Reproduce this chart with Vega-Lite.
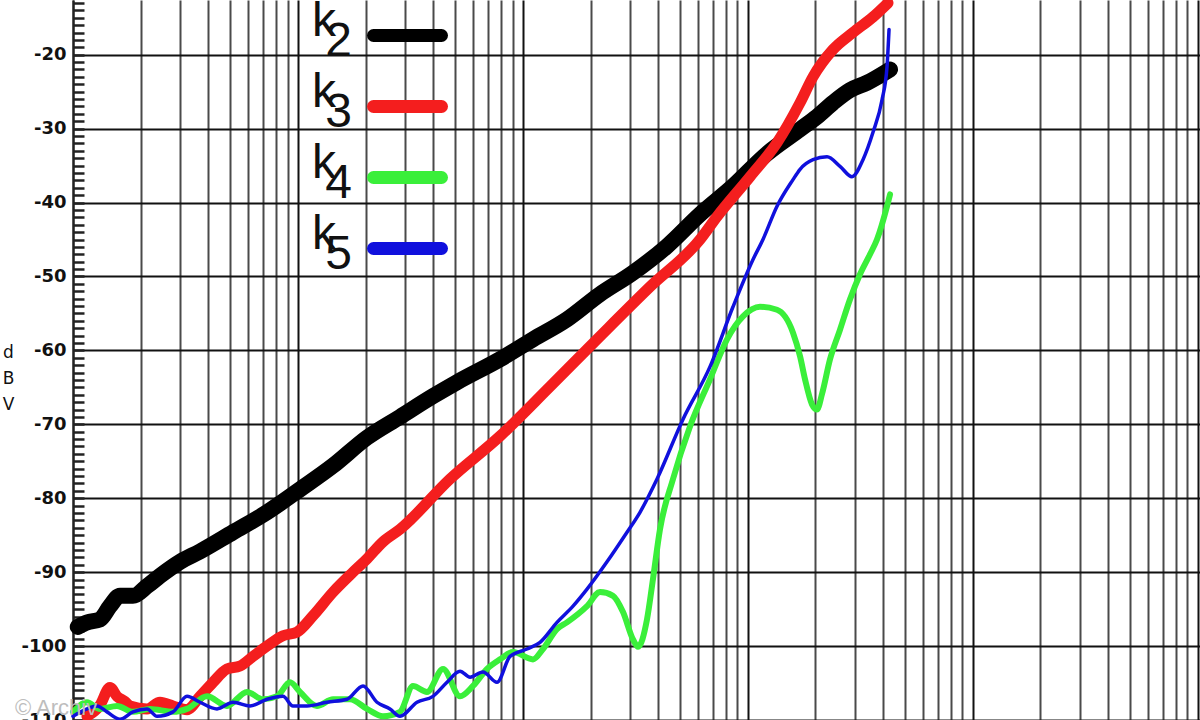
{
  "$schema": "https://vega.github.io/schema/vega-lite/v6.json",
  "width": 1127,
  "height": 720,
  "autosize": {"type": "none"},
  "padding": {"left": 73, "top": 0, "right": 0, "bottom": 0},
  "background": "white",
  "config": {"view": {"stroke": null}},
  "title": {"text": "© Archiv", "orient": "bottom", "anchor": "start", "frame": "group", "offset": -31, "dx": -58, "font": "Liberation Sans", "fontSize": 22, "fontWeight": "normal", "color": "#bdbdbd"},
  "data": {"values": [
    {"series": "k2", "x": 1.05, "dBV": -97.4},
    {"series": "k2", "x": 1.154, "dBV": -96.8},
    {"series": "k2", "x": 1.318, "dBV": -96.4},
    {"series": "k2", "x": 1.46, "dBV": -94.6},
    {"series": "k2", "x": 1.618, "dBV": -93.2},
    {"series": "k2", "x": 1.848, "dBV": -93.2},
    {"series": "k2", "x": 2.134, "dBV": -91.9},
    {"series": "k2", "x": 2.437, "dBV": -90.5},
    {"series": "k2", "x": 2.991, "dBV": -88.6},
    {"series": "k2", "x": 3.67, "dBV": -87.2},
    {"series": "k2", "x": 5.145, "dBV": -84.6},
    {"series": "k2", "x": 7.289, "dBV": -81.9},
    {"series": "k2", "x": 10.22, "dBV": -78.8},
    {"series": "k2", "x": 14.33, "dBV": -75.6},
    {"series": "k2", "x": 20.29, "dBV": -71.8},
    {"series": "k2", "x": 28.44, "dBV": -69.0},
    {"series": "k2", "x": 39.87, "dBV": -66.2},
    {"series": "k2", "x": 51.0, "dBV": -64.3},
    {"series": "k2", "x": 79.18, "dBV": -61.2},
    {"series": "k2", "x": 111.0, "dBV": -58.5},
    {"series": "k2", "x": 157.2, "dBV": -55.8},
    {"series": "k2", "x": 220.4, "dBV": -52.4},
    {"series": "k2", "x": 309.0, "dBV": -49.5},
    {"series": "k2", "x": 437.7, "dBV": -45.9},
    {"series": "k2", "x": 613.8, "dBV": -41.6},
    {"series": "k2", "x": 860.3, "dBV": -37.8},
    {"series": "k2", "x": 1218, "dBV": -33.4},
    {"series": "k2", "x": 1709, "dBV": -30.1},
    {"series": "k2", "x": 2033, "dBV": -28.4},
    {"series": "k2", "x": 2395, "dBV": -26.5},
    {"series": "k2", "x": 2850, "dBV": -24.8},
    {"series": "k2", "x": 3393, "dBV": -23.8},
    {"series": "k2", "x": 4294, "dBV": -22.0},

    {"series": "k3", "x": 1.154, "dBV": -109.5},
    {"series": "k3", "x": 1.318, "dBV": -108.0},
    {"series": "k3", "x": 1.46, "dBV": -105.6},
    {"series": "k3", "x": 1.569, "dBV": -106.8},
    {"series": "k3", "x": 1.703, "dBV": -107.5},
    {"series": "k3", "x": 1.792, "dBV": -108.1},
    {"series": "k3", "x": 2.134, "dBV": -108.5},
    {"series": "k3", "x": 2.437, "dBV": -107.6},
    {"series": "k3", "x": 2.784, "dBV": -108.1},
    {"series": "k3", "x": 3.213, "dBV": -108.6},
    {"series": "k3", "x": 3.67, "dBV": -106.8},
    {"series": "k3", "x": 4.194, "dBV": -104.9},
    {"series": "k3", "x": 4.838, "dBV": -103.1},
    {"series": "k3", "x": 5.528, "dBV": -102.7},
    {"series": "k3", "x": 6.316, "dBV": -101.4},
    {"series": "k3", "x": 7.289, "dBV": -100.0},
    {"series": "k3", "x": 8.585, "dBV": -98.6},
    {"series": "k3", "x": 9.908, "dBV": -98.1},
    {"series": "k3", "x": 11.67, "dBV": -95.9},
    {"series": "k3", "x": 14.33, "dBV": -92.7},
    {"series": "k3", "x": 17.58, "dBV": -90.0},
    {"series": "k3", "x": 20.29, "dBV": -88.2},
    {"series": "k3", "x": 23.89, "dBV": -85.9},
    {"series": "k3", "x": 28.44, "dBV": -84.2},
    {"series": "k3", "x": 47.46, "dBV": -77.4},
    {"series": "k3", "x": 79.18, "dBV": -71.6},
    {"series": "k3", "x": 132.1, "dBV": -64.9},
    {"series": "k3", "x": 220.4, "dBV": -58.1},
    {"series": "k3", "x": 367.8, "dBV": -51.4},
    {"series": "k3", "x": 613.8, "dBV": -45.0},
    {"series": "k3", "x": 730.3, "dBV": -41.9},
    {"series": "k3", "x": 1024, "dBV": -36.5},
    {"series": "k3", "x": 1350, "dBV": -31.9},
    {"series": "k3", "x": 1709, "dBV": -26.5},
    {"series": "k3", "x": 1951, "dBV": -23.0},
    {"series": "k3", "x": 2395, "dBV": -19.3},
    {"series": "k3", "x": 2938, "dBV": -17.0},
    {"series": "k3", "x": 3607, "dBV": -14.9},
    {"series": "k3", "x": 4207, "dBV": -13.0},

    {"series": "k4", "x": 1.0, "dBV": -108.9},
    {"series": "k4", "x": 1.154, "dBV": -107.6},
    {"series": "k4", "x": 1.318, "dBV": -108.5},
    {"series": "k4", "x": 1.569, "dBV": -108.1},
    {"series": "k4", "x": 1.848, "dBV": -108.9},
    {"series": "k4", "x": 2.2, "dBV": -108.5},
    {"series": "k4", "x": 2.784, "dBV": -108.9},
    {"series": "k4", "x": 3.213, "dBV": -108.5},
    {"series": "k4", "x": 3.943, "dBV": -106.8},
    {"series": "k4", "x": 4.838, "dBV": -108.1},
    {"series": "k4", "x": 5.938, "dBV": -106.2},
    {"series": "k4", "x": 6.996, "dBV": -107.2},
    {"series": "k4", "x": 8.075, "dBV": -106.8},
    {"series": "k4", "x": 9.224, "dBV": -104.9},
    {"series": "k4", "x": 10.22, "dBV": -106.2},
    {"series": "k4", "x": 12.16, "dBV": -108.1},
    {"series": "k4", "x": 14.33, "dBV": -107.2},
    {"series": "k4", "x": 17.05, "dBV": -107.2},
    {"series": "k4", "x": 20.29, "dBV": -108.5},
    {"series": "k4", "x": 23.89, "dBV": -109.5},
    {"series": "k4", "x": 28.44, "dBV": -108.9},
    {"series": "k4", "x": 32.49, "dBV": -105.4},
    {"series": "k4", "x": 37.5, "dBV": -106.2},
    {"series": "k4", "x": 44.19, "dBV": -103.1},
    {"series": "k4", "x": 52.58, "dBV": -106.8},
    {"series": "k4", "x": 60.07, "dBV": -105.4},
    {"series": "k4", "x": 69.31, "dBV": -103.1},
    {"series": "k4", "x": 79.18, "dBV": -101.8},
    {"series": "k4", "x": 90.46, "dBV": -100.8},
    {"series": "k4", "x": 111.0, "dBV": -101.8},
    {"series": "k4", "x": 123.0, "dBV": -100.4},
    {"series": "k4", "x": 141.9, "dBV": -97.7},
    {"series": "k4", "x": 157.2, "dBV": -96.8},
    {"series": "k4", "x": 193.0, "dBV": -94.6},
    {"series": "k4", "x": 220.4, "dBV": -92.7},
    {"series": "k4", "x": 251.8, "dBV": -93.2},
    {"series": "k4", "x": 279.0, "dBV": -95.4},
    {"series": "k4", "x": 309.0, "dBV": -99.1},
    {"series": "k4", "x": 325.3, "dBV": -100.1},
    {"series": "k4", "x": 356.6, "dBV": -96.4},
    {"series": "k4", "x": 379.3, "dBV": -90.9},
    {"series": "k4", "x": 407.4, "dBV": -84.2},
    {"series": "k4", "x": 465.5, "dBV": -77.4},
    {"series": "k4", "x": 553.9, "dBV": -70.3},
    {"series": "k4", "x": 679.9, "dBV": -63.9},
    {"series": "k4", "x": 809.1, "dBV": -58.5},
    {"series": "k4", "x": 953.0, "dBV": -55.4},
    {"series": "k4", "x": 1134, "dBV": -54.1},
    {"series": "k4", "x": 1350, "dBV": -54.5},
    {"series": "k4", "x": 1590, "dBV": -57.6},
    {"series": "k4", "x": 1709, "dBV": -60.8},
    {"series": "k4", "x": 1798, "dBV": -63.9},
    {"series": "k4", "x": 1931, "dBV": -67.3},
    {"series": "k4", "x": 2033, "dBV": -68.0},
    {"series": "k4", "x": 2140, "dBV": -65.9},
    {"series": "k4", "x": 2323, "dBV": -61.2},
    {"series": "k4", "x": 2573, "dBV": -57.2},
    {"series": "k4", "x": 2850, "dBV": -53.1},
    {"series": "k4", "x": 3158, "dBV": -49.7},
    {"series": "k4", "x": 3499, "dBV": -47.0},
    {"series": "k4", "x": 3757, "dBV": -45.0},
    {"series": "k4", "x": 4164, "dBV": -40.5},
    {"series": "k4", "x": 4294, "dBV": -38.9},

    {"series": "k5", "x": 1.0, "dBV": -109.5},
    {"series": "k5", "x": 1.154, "dBV": -108.5},
    {"series": "k5", "x": 1.279, "dBV": -108.1},
    {"series": "k5", "x": 1.416, "dBV": -108.9},
    {"series": "k5", "x": 1.618, "dBV": -109.9},
    {"series": "k5", "x": 1.848, "dBV": -108.9},
    {"series": "k5", "x": 2.134, "dBV": -108.5},
    {"series": "k5", "x": 2.363, "dBV": -109.5},
    {"series": "k5", "x": 2.784, "dBV": -108.9},
    {"series": "k5", "x": 3.213, "dBV": -106.8},
    {"series": "k5", "x": 3.67, "dBV": -107.6},
    {"series": "k5", "x": 4.369, "dBV": -108.5},
    {"series": "k5", "x": 5.145, "dBV": -107.6},
    {"series": "k5", "x": 6.124, "dBV": -108.1},
    {"series": "k5", "x": 7.289, "dBV": -107.2},
    {"series": "k5", "x": 8.585, "dBV": -106.8},
    {"series": "k5", "x": 9.511, "dBV": -108.1},
    {"series": "k5", "x": 10.98, "dBV": -108.1},
    {"series": "k5", "x": 13.47, "dBV": -107.6},
    {"series": "k5", "x": 16.54, "dBV": -107.2},
    {"series": "k5", "x": 19.48, "dBV": -105.4},
    {"series": "k5", "x": 22.47, "dBV": -107.6},
    {"series": "k5", "x": 25.67, "dBV": -108.5},
    {"series": "k5", "x": 28.44, "dBV": -109.5},
    {"series": "k5", "x": 33.85, "dBV": -107.6},
    {"series": "k5", "x": 39.87, "dBV": -106.8},
    {"series": "k5", "x": 46.03, "dBV": -104.9},
    {"series": "k5", "x": 52.58, "dBV": -103.4},
    {"series": "k5", "x": 58.26, "dBV": -104.2},
    {"series": "k5", "x": 66.53, "dBV": -103.5},
    {"series": "k5", "x": 76.79, "dBV": -104.9},
    {"series": "k5", "x": 87.74, "dBV": -101.4},
    {"series": "k5", "x": 104.4, "dBV": -100.4},
    {"series": "k5", "x": 119.3, "dBV": -99.5},
    {"series": "k5", "x": 141.9, "dBV": -96.8},
    {"series": "k5", "x": 167.2, "dBV": -94.6},
    {"series": "k5", "x": 193.0, "dBV": -92.3},
    {"series": "k5", "x": 236.8, "dBV": -88.6},
    {"series": "k5", "x": 290.6, "dBV": -84.6},
    {"series": "k5", "x": 332.0, "dBV": -81.9},
    {"series": "k5", "x": 395.2, "dBV": -77.4},
    {"series": "k5", "x": 515.8, "dBV": -69.3},
    {"series": "k5", "x": 679.9, "dBV": -62.2},
    {"series": "k5", "x": 860.3, "dBV": -54.1},
    {"series": "k5", "x": 1056, "dBV": -47.7},
    {"series": "k5", "x": 1169, "dBV": -45.0},
    {"series": "k5", "x": 1350, "dBV": -40.5},
    {"series": "k5", "x": 1590, "dBV": -36.9},
    {"series": "k5", "x": 1709, "dBV": -35.5},
    {"series": "k5", "x": 1951, "dBV": -34.2},
    {"series": "k5", "x": 2253, "dBV": -33.8},
    {"series": "k5", "x": 2573, "dBV": -35.1},
    {"series": "k5", "x": 2909, "dBV": -36.5},
    {"series": "k5", "x": 3256, "dBV": -34.2},
    {"series": "k5", "x": 3607, "dBV": -30.5},
    {"series": "k5", "x": 3957, "dBV": -26.1},
    {"series": "k5", "x": 4164, "dBV": -21.6},
    {"series": "k5", "x": 4250, "dBV": -16.6}
  ]},
  "encoding": {
    "x": {
      "field": "x", "type": "quantitative",
      "scale": {"type": "log", "domain": [1, 102590], "nice": false},
      "axis": {
        "values": [1,2,3,4,5,6,7,8,9,10,20,30,40,50,60,70,80,90,100,200,300,400,500,600,700,800,900,1000,2000,3000,4000,5000,6000,7000,8000,9000,10000,20000,30000,40000,50000,60000,70000,80000,90000,100000],
        "labels": false, "ticks": false, "domain": false, "title": null,
        "grid": true, "gridWidth": 2,
        "gridColor": {"condition": {"test": "indexof([1,10,100,1000,10000,100000], datum.value) >= 0", "value": "#111111"}, "value": "#4a4a4a"}
      }
    },
    "y": {
      "field": "dBV", "type": "quantitative",
      "scale": {"domain": [-110, -12.6], "nice": false, "zero": false},
      "axis": {
        "values": [-110,-109,-108,-107,-106,-105,-104,-103,-102,-101,-100,-99,-98,-97,-96,-95,-94,-93,-92,-91,-90,-89,-88,-87,-86,-85,-84,-83,-82,-81,-80,-79,-78,-77,-76,-75,-74,-73,-72,-71,-70,-69,-68,-67,-66,-65,-64,-63,-62,-61,-60,-59,-58,-57,-56,-55,-54,-53,-52,-51,-50,-49,-48,-47,-46,-45,-44,-43,-42,-41,-40,-39,-38,-37,-36,-35,-34,-33,-32,-31,-30,-29,-28,-27,-26,-25,-24,-23,-22,-21,-20,-19,-18,-17,-16,-15,-14,-13],
        "title": ["d", "B", "V"],
        "titleAngle": 0, "titleX": -65, "titleY": 352, "titleAlign": "center", "titleBaseline": "middle",
        "titleFont": "DejaVu Sans", "titleFontSize": 17, "titleFontWeight": "normal", "titleLineHeight": 26, "titleColor": "#111111",
        "labelExpr": "datum.value % 10 === 0 ? '-' + abs(datum.value) : ''",
        "labelFont": "DejaVu Sans", "labelFontSize": 18, "labelFontWeight": "bold", "labelColor": "#111111",
        "labelPadding": 18, "labelOverlap": false, "labelBound": false, "labelFlush": false,
        "tickSize": -11, "tickWidth": 2.5, "tickColor": "#222222",
        "domain": true, "domainColor": "#222222", "domainWidth": 2,
        "grid": true, "gridColor": "#111111", "gridWidth": 2,
        "gridOpacity": {"condition": {"test": "datum.value % 10 === 0", "value": 1}, "value": 0}
      }
    },
    "color": {
      "field": "series", "type": "nominal",
      "scale": {"domain": ["k2", "k3", "k4", "k5"], "range": ["#000000", "#f41e1e", "#3aef3a", "#1010dd"]},
      "legend": {
        "orient": "none", "legendX": 294, "legendY": -5, "title": null, "padding": 0,
        "symbolType": "stroke", "symbolSize": 4624, "symbolStrokeWidth": 13,
        "labelFont": "Liberation Sans", "labelFontSize": 48, "labelColor": "#111111",
        "labelAlign": "left", "labelBaseline": "alphabetic", "labelOffset": -136, "labelLimit": 0,
        "labelExpr": "['k', '\u200b\u00a0' + slice(datum.label, 1)]",
        "rowPadding": -13,
        "encoding": {"labels": {"lineHeight": {"value": 20}}, "symbols": {"strokeCap": {"value": "round"}, "strokeWidth": {"value": 13}}}
      }
    }
  },
  "layer": [
    {"transform": [{"filter": "datum.series === 'k2'"}], "mark": {"type": "line", "strokeWidth": 16, "strokeCap": "round", "strokeJoin": "round", "interpolate": "monotone"}},
    {"transform": [{"filter": "datum.series === 'k3'"}], "mark": {"type": "line", "strokeWidth": 11, "strokeCap": "round", "strokeJoin": "round", "interpolate": "monotone"}},
    {"transform": [{"filter": "datum.series === 'k4'"}], "mark": {"type": "line", "strokeWidth": 6, "strokeCap": "round", "strokeJoin": "round", "interpolate": "monotone"}},
    {"transform": [{"filter": "datum.series === 'k5'"}], "mark": {"type": "line", "strokeWidth": 3.5, "strokeCap": "round", "strokeJoin": "round", "interpolate": "monotone"}}
  ]
}
